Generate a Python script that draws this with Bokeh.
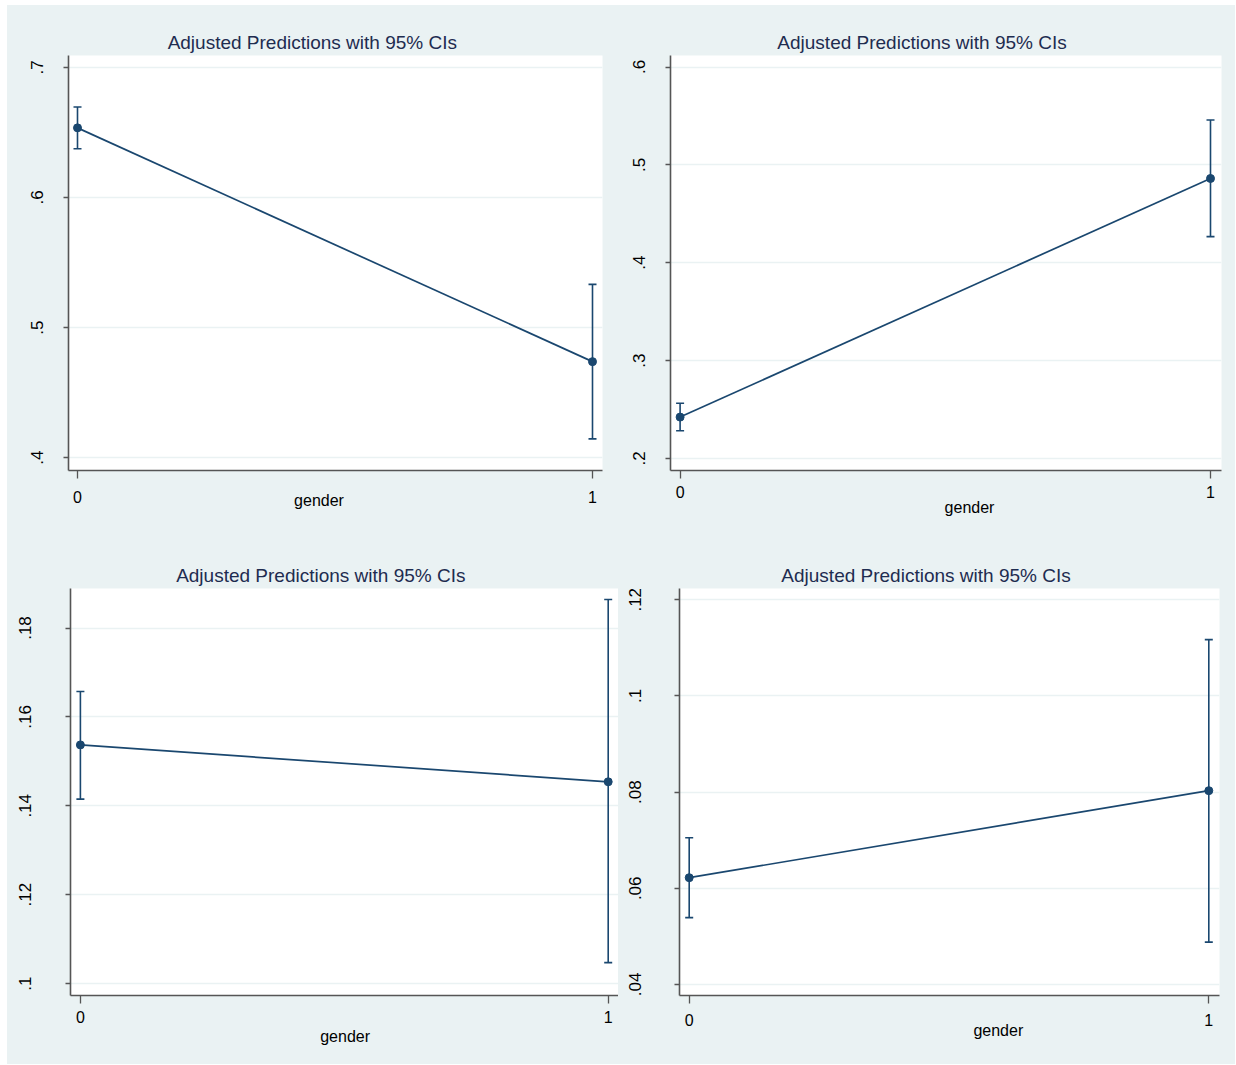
from bokeh.plotting import figure
from bokeh.layouts import column, row
from bokeh.models import ColumnDataSource, Whisker, TeeHead, FixedTicker, Title, Spacer
from bokeh.embed import file_html
from bokeh.resources import INLINE

# ---------------- data ----------------
gender = [0, 1]
xtick_labels = ["0", "1"]

margin_1 = [0.6535, 0.4738]
lower_1 = [0.6375, 0.4144]
upper_1 = [0.6695, 0.5332]
yticks_1 = [0.4, 0.5, 0.6, 0.7]
ylabels_1 = [".4", ".5", ".6", ".7"]

margin_2 = [0.2423, 0.4861]
lower_2 = [0.2283, 0.4267]
upper_2 = [0.2564, 0.5459]
yticks_2 = [0.2, 0.3, 0.4, 0.5, 0.6]
ylabels_2 = [".2", ".3", ".4", ".5", ".6"]

margin_3 = [0.1537, 0.1454]
lower_3 = [0.1415, 0.1047]
upper_3 = [0.1657, 0.1864]
yticks_3 = [0.10, 0.12, 0.14, 0.16, 0.18]
ylabels_3 = [".1", ".12", ".14", ".16", ".18"]

margin_4 = [0.0622, 0.0803]
lower_4 = [0.0539, 0.0488]
upper_4 = [0.0705, 0.1117]
yticks_4 = [0.04, 0.06, 0.08, 0.10, 0.12]
ylabels_4 = [".04", ".06", ".08", ".1", ".12"]

title_text = "Adjusted Predictions with 95% CIs"
xaxis_title = "gender"

# ---------------- styles ----------------
BG = "#EAF2F3"
NAVY = "#1A476F"
TITLE_COLOR = "#1E2C50"
AXIS_COLOR = "#555555"
FONT = "Liberation Sans"
TITLE_SIZE = 19
TITLE_EM = 15.228      # Arial-metric width of the title string, in em
XLAB_SIZE = 16
XLAB_EM = 3.113        # Arial-metric width of "gender", in em

# ---------------- layout (absolute page pixels) ----------------
layouts = [
    dict(ox=7, oy=5, w=611, h=535, fl=68, fr=602, ft=55, fb=474,
         x0=77.0, x1=592.0, yt=67.0, yb=461.0, title_cx=311.8, xlab_cx=318.5,
         ystand=20, xstand=12, tstand=6, gstand=-28, galign="top"),
    dict(ox=618, oy=5, w=617, h=535, fl=670, fr=1221, ft=55, fb=470,
         x0=679.6, x1=1210.0, yt=66.5, yb=458.0, title_cx=921.5, xlab_cx=969.0,
         ystand=21, xstand=7, tstand=6, gstand=-8, galign="bottom"),
    dict(ox=7, oy=540, w=611, h=524, fl=70, fr=618, ft=583, fb=995,
         x0=79.9, x1=607.7, yt=623.0, yb=982.9, title_cx=320.3, xlab_cx=344.6,
         ystand=34, xstand=7, tstand=6, gstand=0, galign="bottom"),
    dict(ox=618, oy=540, w=617, h=524, fl=679, fr=1219, ft=588, fb=997,
         x0=688.7, x1=1208.3, yt=599.3, yb=985.9, title_cx=925.5, xlab_cx=997.8,
         ystand=33, xstand=10, tstand=6, gstand=-18, galign="bottom"),
]

series = [
    (margin_1, lower_1, upper_1, yticks_1, ylabels_1),
    (margin_2, lower_2, upper_2, yticks_2, ylabels_2),
    (margin_3, lower_3, upper_3, yticks_3, ylabels_3),
    (margin_4, lower_4, upper_4, yticks_4, ylabels_4),
]


def make_panel(L, margin, lower, upper, yticks, ylabels):
    xper = (gender[1] - gender[0]) / (L["x1"] - L["x0"])
    yper = (yticks[-1] - yticks[0]) / (L["yb"] - L["yt"])

    def px2x(px):
        return gender[0] + (px - L["x0"]) * xper

    def py2y(py):
        return yticks[-1] - (py - L["yt"]) * yper

    p = figure(width=L["w"], height=L["h"], title=None,
               x_range=(px2x(L["fl"]), px2x(L["fr"])),
               y_range=(py2y(L["fb"]), py2y(L["ft"])),
               min_border_left=L["fl"] - L["ox"], min_border_right=L["ox"] + L["w"] - L["fr"],
               min_border_top=L["ft"] - L["oy"], min_border_bottom=L["oy"] + L["h"] - L["fb"],
               toolbar_location=None, output_backend="svg")
    p.background_fill_color = "white"
    p.border_fill_color = BG
    p.outline_line_color = None

    p.xgrid.visible = False
    p.ygrid.grid_line_color = BG
    p.ygrid.grid_line_width = 1.6

    p.xaxis.ticker = FixedTicker(ticks=gender)
    p.xaxis.major_label_overrides = {g: t for g, t in zip(gender, xtick_labels)}
    p.yaxis.ticker = FixedTicker(ticks=yticks)
    p.yaxis.major_label_overrides = {v: t for v, t in zip(yticks, ylabels)}
    p.yaxis.major_label_orientation = "vertical"

    for ax in (p.xaxis, p.yaxis):
        ax.axis_line_color = AXIS_COLOR
        ax.axis_line_width = 1.6
        ax.major_tick_line_color = AXIS_COLOR
        ax.major_tick_line_width = 1.3
        ax.major_tick_in = 0
        ax.minor_tick_line_color = None
        ax.major_label_text_color = "black"
        ax.major_label_text_font = FONT
    p.xaxis.major_label_text_font_size = "16px"
    p.yaxis.major_label_text_font_size = "17px"
    p.xaxis.major_tick_out = 8
    p.yaxis.major_tick_out = 5
    p.xaxis.major_label_standoff = L["xstand"]
    p.yaxis.major_label_standoff = L["ystand"]

    src = ColumnDataSource(dict(x=gender, m=margin, lo=lower, hi=upper))
    p.add_layout(Whisker(base="x", lower="lo", upper="hi", source=src,
                         line_color=NAVY, line_width=1.6,
                         lower_head=TeeHead(size=8, line_color=NAVY, line_width=1.6),
                         upper_head=TeeHead(size=8, line_color=NAVY, line_width=1.6)))
    p.line("x", "m", source=src, line_color=NAVY, line_width=1.7)
    p.scatter("x", "m", source=src, size=8, fill_color=NAVY, line_color=NAVY)

    t_off = L["title_cx"] - TITLE_EM * TITLE_SIZE / 2 - L["fl"]
    p.add_layout(Title(text=title_text, align="left", offset=t_off, standoff=L["tstand"],
                       text_font=FONT, text_font_size=f"{TITLE_SIZE}px",
                       text_font_style="normal", text_color=TITLE_COLOR), "above")
    g_off = L["xlab_cx"] - XLAB_EM * XLAB_SIZE / 2 - L["fl"]
    p.add_layout(Title(text=xaxis_title, align="left", offset=g_off, standoff=L["gstand"],
                       vertical_align=L["galign"],
                       text_font=FONT, text_font_size=f"{XLAB_SIZE}px",
                       text_font_style="normal", text_color="black"), "below")
    return p


panels = [make_panel(L, *s) for L, s in zip(layouts, series)]
WHITE = {"background-color": "white"}
ROWBG = {"background-color": BG}
layout = column(
    Spacer(width=1235, height=5, styles=WHITE),
    row(Spacer(width=7, height=535, styles=WHITE), panels[0], panels[1], styles=ROWBG),
    row(Spacer(width=7, height=524, styles=WHITE), panels[2], panels[3], styles=ROWBG),
)

open("out.html", "w").write(file_html(layout, INLINE))
